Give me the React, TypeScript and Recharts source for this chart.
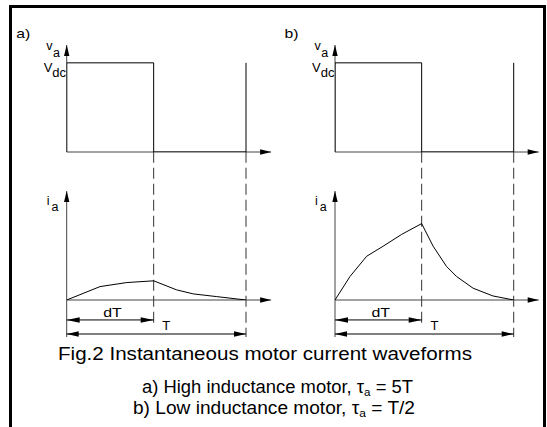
import { LineChart, Line, XAxis, YAxis, ReferenceLine } from 'recharts';

const W = 547;
const H = 427;
const FONT = '"Liberation Sans", Arial, sans-serif';

// time in units of the period T
const DUTY = 0.485;
const PERIOD = 1;
const T_AXIS_END = 1.14;

// armature voltage: on for dT, off till T, on again
const vTime = [0, 0, DUTY, DUTY, PERIOD, PERIOD];
const vLevel = [0, 1, 1, 0, 0, 1];
const V_AXIS_END = 1.2;

// a) high inductance motor
const aTime = [0, 0.186, 0.335, 0.485, 0.613, 0.706, 0.837, 1];
const aCurrent = [0, 0.123, 0.16, 0.176, 0.093, 0.056, 0.031, 0];

// b) low inductance motor
const bTime = [0, 0.084, 0.177, 0.27, 0.373, 0.485, 0.549, 0.624, 0.68, 0.773, 0.884, 1];
const bCurrent = [0, 0.216, 0.401, 0.494, 0.602, 0.701, 0.494, 0.308, 0.216, 0.108, 0.037, 0];
const I_AXIS_END = 1;

// dashed guides and dimension arrows below the current plot (current units)
const DASH_TOP = 1.36;
const DT_LEVEL = -0.183;
const T_LEVEL = -0.312;
const DT_DROP = -0.215;
const T_DROP = -0.34;

const voltageData = vTime.map((t, i) => ({ t, v: vLevel[i] }));
const aData = aTime.map((t, i) => ({ t, i: aCurrent[i] }));
const bData = bTime.map((t, i) => ({ t, i: bCurrent[i] }));

const panels = [
  { key: 'a', ox: 66.7, scale: 179.3, current: aData },
  { key: 'b', ox: 335, scale: 178.7, current: bData },
];

const V_TOP = 45;
const V_AXIS_Y = 152;
const I_TOP = 191;
const I_AXIS_Y = 300;

function head(x: number, y: number, fx: number, fy: number, len: number) {
  const dx = x - fx;
  const dy = y - fy;
  const d = Math.hypot(dx, dy) || 1;
  const ux = dx / d;
  const uy = dy / d;
  const w = 2.7;
  const bx = x - ux * len;
  const by = y - uy * len;
  return `${x},${y} ${bx - uy * w},${by + ux * w} ${bx + uy * w},${by - ux * w}`;
}

function arrow(opts: { start?: boolean; end?: boolean; len?: number; dash?: string; stroke?: string }) {
  const { start = false, end = true, len = 11, dash, stroke = '#000' } = opts;
  return (p: any) => {
    const { x1, y1, x2, y2 } = p;
    return (
      <g>
        <line x1={x1} y1={y1} x2={x2} y2={y2} stroke={stroke} strokeWidth={1} strokeDasharray={dash} />
        {end && <polygon points={head(x2, y2, x1, y1, len)} fill="#000" />}
        {start && <polygon points={head(x1, y1, x2, y2, len)} fill="#000" />}
      </g>
    );
  };
}

function axisProps(domain: [number, number]) {
  return { type: 'number' as const, domain, tick: false, tickLine: false, axisLine: false, allowDataOverflow: true };
}

export default function App() {
  return (
    <div
      style={{
        position: 'absolute',
        left: 0,
        top: 0,
        width: W,
        height: H,
        background: '#fff',
        overflow: 'hidden',
      }}
    >
      <div
        style={{
          position: 'absolute',
          left: 9,
          top: 5,
          width: 537,
          height: 440,
          border: '3px solid #000',
          boxSizing: 'border-box',
        }}
      />

      {panels.map((p) => {
        const right = W - p.ox - T_AXIS_END * p.scale;
        return (
          <div key={p.key}>
            {/* voltage */}
            <div style={{ position: 'absolute', left: 0, top: 0 }}>
              <LineChart
                width={W}
                height={H}
                data={voltageData}
                margin={{ top: V_TOP, left: p.ox, right, bottom: H - V_AXIS_Y }}
              >
                <XAxis dataKey="t" height={0} {...axisProps([0, T_AXIS_END])} />
                <YAxis width={0} {...axisProps([0, V_AXIS_END])} />
                <ReferenceLine
                  segment={[{ x: 0, y: 0 }, { x: T_AXIS_END, y: 0 }]}
                  ifOverflow="visible"
                  shape={arrow({ stroke: '#444' })}
                />
                <ReferenceLine
                  segment={[{ x: 0, y: 0 }, { x: 0, y: V_AXIS_END }]}
                  ifOverflow="visible"
                  shape={arrow({ stroke: '#444' })}
                />
                <Line
                  type="linear"
                  dataKey="v"
                  stroke="#000"
                  strokeWidth={1}
                  dot={false}
                  isAnimationActive={false}
                />
              </LineChart>
            </div>

            {/* current */}
            <div style={{ position: 'absolute', left: 0, top: 0 }}>
              <LineChart
                width={W}
                height={H}
                data={p.current}
                margin={{ top: I_TOP, left: p.ox, right, bottom: H - I_AXIS_Y }}
              >
                <XAxis dataKey="t" height={0} {...axisProps([0, T_AXIS_END])} />
                <YAxis width={0} {...axisProps([0, I_AXIS_END])} />
                <ReferenceLine
                  segment={[{ x: 0, y: 0 }, { x: T_AXIS_END, y: 0 }]}
                  ifOverflow="visible"
                  shape={arrow({ stroke: '#444' })}
                />
                <ReferenceLine
                  segment={[{ x: 0, y: T_DROP }, { x: 0, y: I_AXIS_END }]}
                  ifOverflow="visible"
                  shape={arrow({ stroke: '#444' })}
                />
                <ReferenceLine
                  segment={[{ x: DUTY, y: DASH_TOP }, { x: DUTY, y: DT_DROP }]}
                  ifOverflow="visible"
                  shape={arrow({ end: false, dash: '11 5', stroke: '#333' })}
                />
                <ReferenceLine
                  segment={[{ x: PERIOD, y: DASH_TOP }, { x: PERIOD, y: T_DROP }]}
                  ifOverflow="visible"
                  shape={arrow({ end: false, dash: '11 5', stroke: '#333' })}
                />
                <ReferenceLine
                  segment={[{ x: 0, y: DT_LEVEL }, { x: DUTY, y: DT_LEVEL }]}
                  ifOverflow="visible"
                  shape={arrow({ start: true, len: 13 })}
                />
                <ReferenceLine
                  segment={[{ x: 0, y: T_LEVEL }, { x: PERIOD, y: T_LEVEL }]}
                  ifOverflow="visible"
                  shape={arrow({ start: true, len: 12 })}
                />
                <Line
                  type="linear"
                  dataKey="i"
                  stroke="#000"
                  strokeWidth={1}
                  dot={false}
                  isAnimationActive={false}
                />
              </LineChart>
            </div>
          </div>
        );
      })}

      <svg
        width={W}
        height={H}
        style={{ position: 'absolute', left: 0, top: 0, pointerEvents: 'none' }}
        fontFamily={FONT}
        fill="#000"
      >
        {panels.map((p) => (
          <g key={p.key}>
            <text x={p.ox - 50.5} y={37.5} fontSize={13.5} textLength={14} lengthAdjust="spacingAndGlyphs">
              {p.key})
            </text>
            <text x={p.ox - 20.5} y={50} fontSize={12.5}>
              v<tspan dx={0.5} dy={7}>a</tspan>
            </text>
            <text x={p.ox - 23} y={72} fontSize={13}>
              V<tspan dy={4.5}>dc</tspan>
            </text>
            <text x={p.ox - 20} y={205} fontSize={12.5}>
              i<tspan dx={2} dy={6}>a</tspan>
            </text>
            <text x={p.ox + 36.5} y={317} fontSize={13} textLength={18.5} lengthAdjust="spacingAndGlyphs">
              dT
            </text>
            <text x={p.ox + 95.5} y={330} fontSize={13}>
              T
            </text>
          </g>
        ))}

        <text x={58} y={359.5} fontSize={17.5} textLength={414} lengthAdjust="spacingAndGlyphs">
          Fig.2  Instantaneous motor current waveforms
        </text>
        <text x={142} y={392.5} fontSize={17.5} textLength={271} lengthAdjust="spacingAndGlyphs">
          a) High inductance motor, τ<tspan fontSize={11} dy={3}>a</tspan>
          <tspan dy={-3}> = 5T</tspan>
        </text>
        <text x={133} y={413.5} fontSize={17.5} textLength={282} lengthAdjust="spacingAndGlyphs">
          b) Low inductance motor, τ<tspan fontSize={11} dy={3}>a</tspan>
          <tspan dy={-3}> = T/2</tspan>
        </text>
      </svg>
    </div>
  );
}
